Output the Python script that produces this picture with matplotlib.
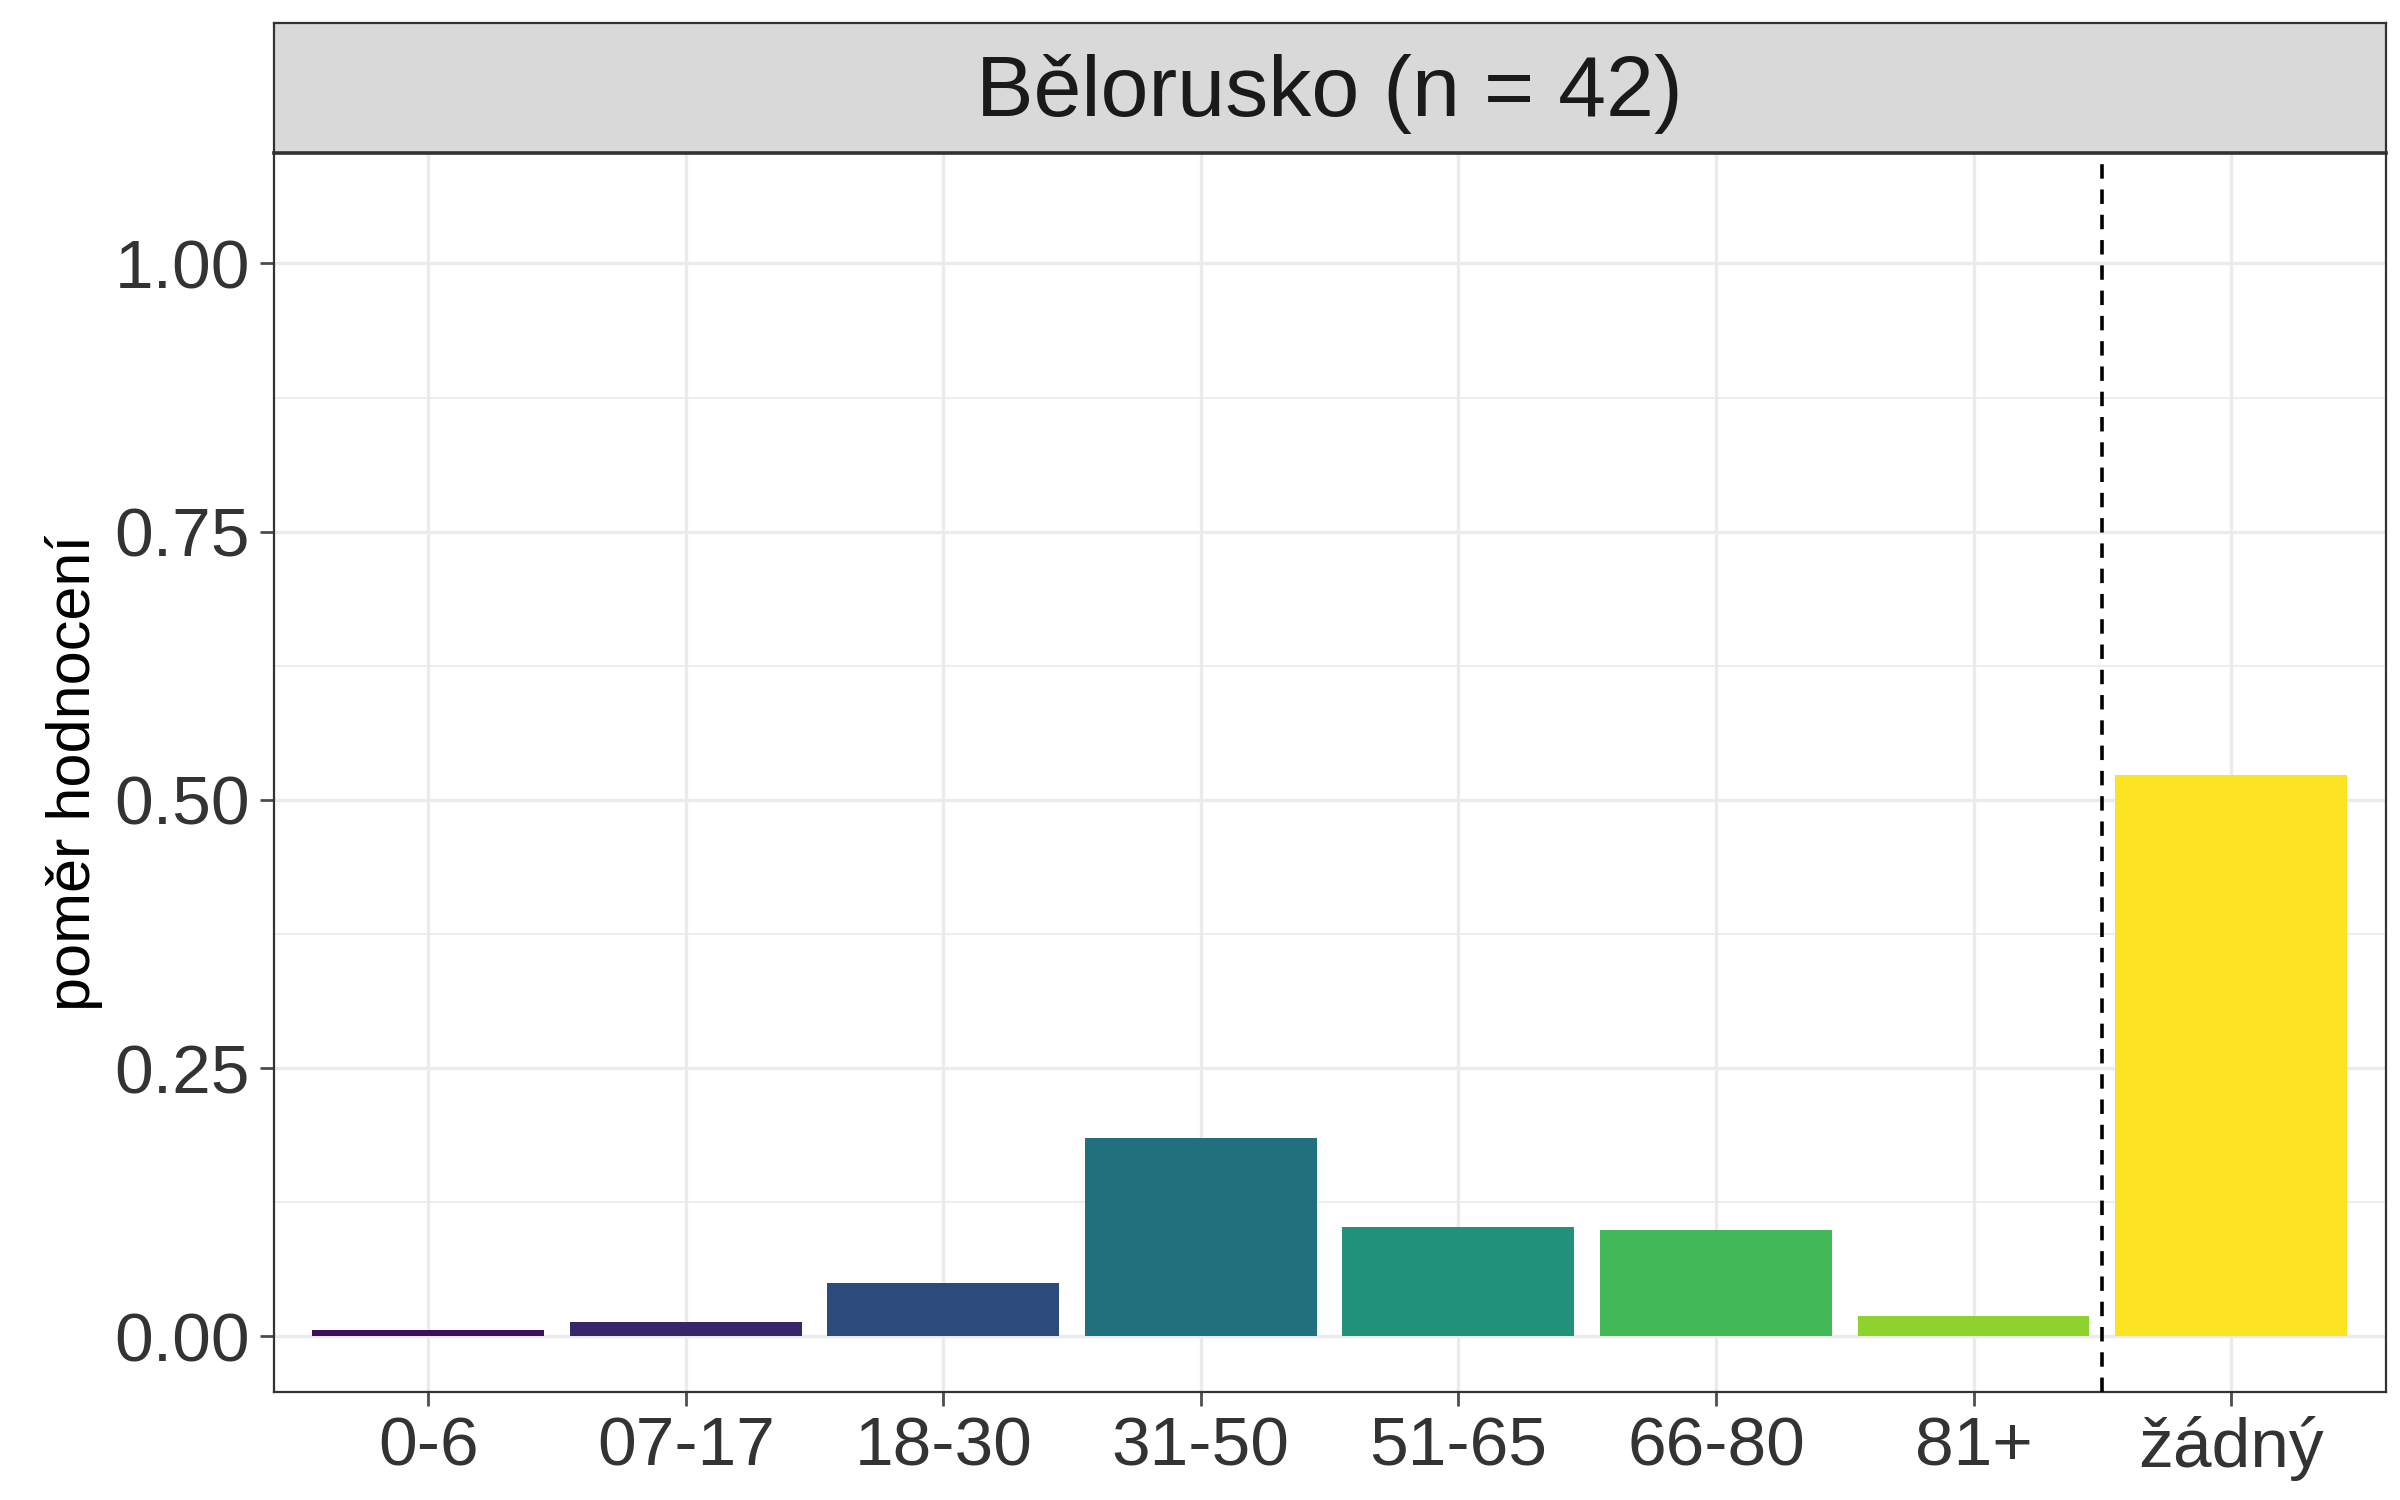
import matplotlib
matplotlib.use("Agg")
import matplotlib.pyplot as plt
from matplotlib.patches import Rectangle

categories = ["0-6", "07-17", "18-30", "31-50", "51-65", "66-80", "81+", "žádný"]
values = [0.006, 0.013, 0.050, 0.185, 0.102, 0.099, 0.019, 0.523]
colors = ["#3e0f5a", "#38266a", "#2c4a7c", "#20707d", "#21917a", "#42b857", "#8ed32d", "#fce422"]
title = "Bělorusko (n = 42)"

plt.rcParams['font.family'] = ['Liberation Sans', 'DejaVu Sans']
fig = plt.figure(figsize=(12, 7.5), dpi=200)
ax = fig.add_axes([0.114, 0.072, 0.880, 0.826])
x = list(range(len(categories)))
ax.bar(x, values, width=0.9, color=colors, zorder=3)
ax.axvline(6.5, color="black", linestyle=(0, (4, 3)), linewidth=1.3, zorder=4)
ax.set_xlim(-0.6, 7.6)
ax.set_ylim(-0.052, 1.103)
ax.set_xticks(x)
ax.set_xticklabels(categories)
ax.set_yticks([0, 0.25, 0.5, 0.75, 1.0])
ax.set_yticklabels(["0.00", "0.25", "0.50", "0.75", "1.00"])
ax.set_yticks([0.125, 0.375, 0.625, 0.875], minor=True)
ax.grid(True, which="major", color="#ebebeb", linewidth=1.2, zorder=0)
ax.grid(True, which="minor", axis="y", color="#ebebeb", linewidth=0.6, zorder=0)
ax.tick_params(axis="both", labelsize=25, colors="#4d4d4d", length=5, width=1, labelcolor="#333333")
ax.tick_params(which="minor", length=0)
ax.set_ylabel("poměr hodnocení", fontsize=22)
for s in ax.spines.values():
    s.set_color("#333333"); s.set_linewidth(0.8)
# strip
sax = fig.add_axes([0.114, 0.898, 0.880, 0.087])
sax.set_xticks([]); sax.set_yticks([])
sax.set_facecolor("#d9d9d9")
for s in sax.spines.values():
    s.set_color("#333333"); s.set_linewidth(0.8)
sax.spines["bottom"].set_linewidth(1.3)
sax.text(0.5, 0.45, title, ha="center", va="center", fontsize=31, color="#1a1a1a", transform=sax.transAxes)
fig.savefig("out.png", dpi=200)
